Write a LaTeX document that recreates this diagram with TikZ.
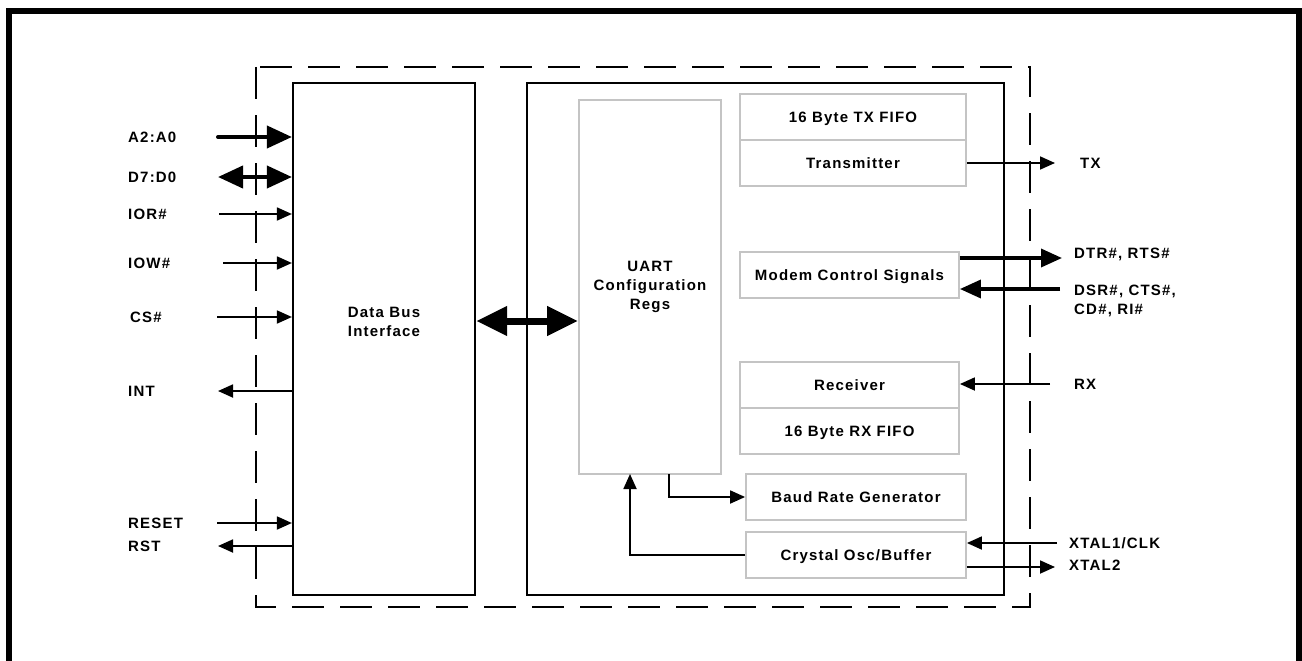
\documentclass[tikz,border=0pt]{standalone}
\usepackage{fontspec}
\setmainfont{Liberation Sans}[LetterSpace=8]
\usetikzlibrary{arrows.meta}
\definecolor{boxgray}{HTML}{C4C4C4}
\begin{document}
\begin{tikzpicture}[x=1bp,y=-1bp,
  every node/.style={font=\fontsize{15bp}{19bp}\selectfont\bfseries, inner sep=0pt},
  blk/.style={draw=black, line width=2.2bp, minimum width=#1},
  gbox/.style={draw=boxgray, line width=1.8bp, minimum height=46bp, minimum width=#1, text height=10.7bp, text depth=0pt},
  pin/.style={anchor=west},
  thinarr/.style={line width=1.8bp, -{Triangle[length=15bp,width=13bp]}},
  thickarr/.style={line width=4bp, -{Triangle[length=25bp,width=22bp]}},
  thickdbl/.style={line width=4bp, {Triangle[length=25bp,width=22bp]}-{Triangle[length=25bp,width=22bp]}},
  busdbl/.style={line width=7bp, {Triangle[length=31bp,width=28bp]}-{Triangle[length=31bp,width=28bp]}},
  modarr/.style={line width=3.5bp, -{Triangle[length=21bp,width=18bp]}}
]
\useasboundingbox (0,0) rectangle (1302,660);
% outer frame
\draw[line width=6bp] (9,670) -- (9,11) -- (1299,11) -- (1299,670);
% dashed chip boundary
\draw[line width=1.5bp, dash pattern=on 32bp off 16bp] (256,67) rectangle (1030,607);

% main blocks
\node[blk=182bp, minimum height=512bp,
  label={[align=center, yshift=17.5bp]center:Data Bus\\Interface}] (dbi) at (384,339) {};
\node[blk=477bp, minimum height=512bp] (core) at (765.5,339) {};
\node[draw=boxgray, line width=1.8bp, minimum width=142bp, minimum height=374bp, align=center] (uart) at (650,287) {UART\\Configuration\\Regs};
\node[gbox=226bp] (txf) at (853,117) {16 Byte TX FIFO};
\node[gbox=226bp] (txm) at (853,163) {Transmitter};
\node[gbox=219bp] (modem) at (849.5,275) {Modem Control Signals};
\node[gbox=219bp] (rcv) at (849.5,385) {Receiver};
\node[gbox=219bp] (rxf) at (849.5,431) {16 Byte RX FIFO};
\node[gbox=220bp] (baud) at (856,497) {Baud Rate Generator};
\node[gbox=220bp] (xtal) at (856,555) {Crystal Osc/Buffer};

% left pin labels
\node[pin] (la2) at (128,137) {A2:A0};
\node[pin] (ld7) at (128,177) {D7:D0};
\node[pin] (lior) at (128,214) {IOR\#};
\node[pin] (liow) at (128,263) {IOW\#};
\node[pin] (lcs) at (130,317) {CS\#};
\node[pin] (lint) at (128,391) {INT};
\node[pin] (lreset) at (128,523) {RESET};
\node[pin] (lrst) at (128,546) {RST};

% left pin line ends
\coordinate (pa2) at (218,137);
\coordinate (pd7) at (218,177);
\coordinate (pior) at (219,214);
\coordinate (piow) at (223,263);
\coordinate (pcs) at (217,317);
\coordinate (pint) at (218,391);
\coordinate (preset) at (217,523);
\coordinate (prst) at (218,546);

\draw[thickarr, line cap=round] (pa2) -- (dbi.west |- pa2);
\draw[thickdbl] (pd7) -- (dbi.west |- pd7);
\draw[thinarr] (pior) -- (dbi.west |- pior);
\draw[thinarr] (piow) -- (dbi.west |- piow);
\draw[thinarr] (pcs) -- (dbi.west |- pcs);
\draw[thinarr] (dbi.west |- pint) -- (pint);
\draw[thinarr] (preset) -- (dbi.west |- preset);
\draw[thinarr] (dbi.west |- prst) -- (prst);

% internal bus
\coordinate (pbus) at (527,321);
\draw[busdbl] (dbi.east |- pbus) -- (uart.west |- pbus);

% internal connections
\coordinate (pub) at (669,474);
\coordinate (pux) at (630,474);
\draw[thinarr] (pub) |- (baud.west);
\draw[thinarr] (xtal.west) -| (pux);

% right pin labels
\node[pin] (rtx) at (1080,163) {TX};
\node[pin] (rdtr) at (1074,254) {DTR\#, RTS\#};
\node[pin, align=left] (rdsr) at (1074,300.5) {DSR\#, CTS\#,\\CD\#, RI\#};
\node[pin] (rrx) at (1074,384) {RX};
\node[pin] (rx1) at (1069,543) {XTAL1/CLK};
\node[pin] (rx2) at (1069,565) {XTAL2};

% right pin line ends
\coordinate (ptx) at (1055,163);
\coordinate (pdtr) at (1062,258);
\coordinate (pdsr) at (1060,289);
\coordinate (prx) at (1050,384);
\coordinate (px1) at (1057,543);
\coordinate (px2) at (1055,567);

\draw[thinarr] (txm.east |- ptx) -- (ptx);
\draw[modarr] (modem.east |- pdtr) -- (pdtr);
\draw[modarr] (pdsr) -- (modem.east |- pdsr);
\draw[thinarr] (prx) -- (rcv.east |- prx);
\draw[thinarr] (px1) -- (xtal.east |- px1);
\draw[thinarr] (xtal.east |- px2) -- (px2);
\end{tikzpicture}
\end{document}
